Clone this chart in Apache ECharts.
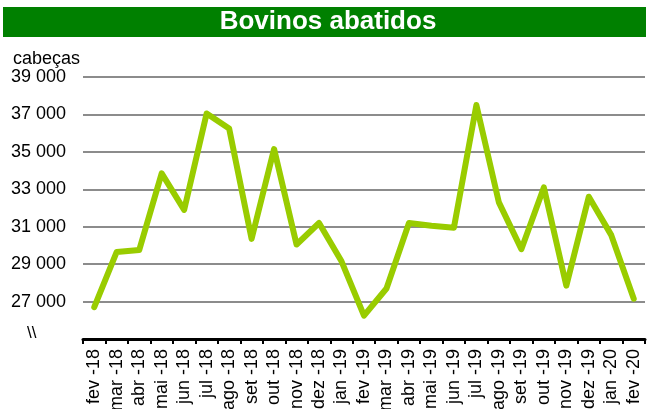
<!DOCTYPE html>
<html>
<head>
<meta charset="utf-8">
<script src="https://cdn.jsdelivr.net/npm/echarts@6/dist/echarts.min.js"></script>
<style>
  html, body { margin: 0; padding: 0; background: #fff; }
  #chart { width: 651px; height: 409px; }
</style>
</head>
<body>
<div id="chart"></div>
<script>
const months = [
  "fev -18", "mar -18", "abr -18", "mai -18", "jun -18", "jul -18", "ago -18",
  "set -18", "out -18", "nov -18", "dez -18", "jan -19", "fev -19", "mar -19",
  "abr -19", "mai -19", "jun -19", "jul -19", "ago -19", "set -19", "out -19",
  "nov -19", "dez -19", "jan -20", "fev -20"
];
// cabeças abatidas
const bovinos = [
  26700, 29650, 29750, 33850, 31900, 37050, 36250,
  30350, 35150, 30050, 31200, 29150, 26250, 27700,
  31200, 31050, 30950, 37500, 32300, 29800, 33100,
  27850, 32600, 30550, 27150
];
const yMin = 25000;
const yMax = 39000;
const yStep = 2000;

const fontFamily = "Arial, 'Liberation Sans', sans-serif";
const chart = echarts.init(document.getElementById("chart"));

const option = {
  animation: false,
  backgroundColor: "#fff",
  graphic: [
    // faixa verde do título
    {
      type: "rect",
      shape: { x: 3, y: 7, width: 643, height: 30 },
      style: { fill: "#008000" },
      z: 0
    },
    {
      type: "text",
      x: 328,
      y: 22,
      style: {
        text: "Bovinos abatidos",
        fill: "#fff",
        font: "bold 26px " + fontFamily,
        textAlign: "center",
        textVerticalAlign: "middle"
      }
    },
    {
      type: "text",
      x: 13,
      y: 50,
      style: { text: "cabeças", fill: "#000", font: "18px " + fontFamily }
    },
    // quebra do eixo
    {
      type: "text",
      x: 27,
      y: 325,
      style: { text: "\\\\", fill: "#000", font: "17px " + fontFamily }
    }
  ],
  grid: {
    left: 83,
    right: 6,
    top: 77,
    bottom: 70,
    containLabel: false,
    outerBoundsMode: "none"
  },
  xAxis: {
    type: "category",
    data: months,
    boundaryGap: true,
    axisLine: { lineStyle: { color: "#000", width: 3 } },
    axisTick: { show: true, alignWithLabel: false, length: 5, lineStyle: { color: "#000", width: 2 } },
    axisLabel: {
      interval: 0,
      rotate: 90,
      margin: 10,
      color: "#000",
      fontSize: 18,
      fontFamily: fontFamily
    },
    splitLine: { show: false }
  },
  yAxis: {
    type: "value",
    min: yMin,
    max: yMax,
    interval: yStep,
    axisLine: { show: false },
    axisTick: { show: false },
    axisLabel: {
      margin: 17,
      color: "#000",
      fontSize: 18,
      fontFamily: fontFamily,
      formatter: function (v) {
        if (v === yMin) return "";
        return String(v).replace(/\B(?=(\d{3})+(?!\d))/g, " ");
      }
    },
    splitLine: {
      show: true,
      lineStyle: { color: "#8c8c8c", width: 2 }
    }
  },
  series: [
    {
      name: "Bovinos abatidos",
      type: "line",
      data: bovinos,
      symbol: "none",
      lineStyle: { color: "#99cc00", width: 6, cap: "round", join: "round" },
      z: 5
    }
  ]
};

chart.setOption(option);
</script>
</body>
</html>
